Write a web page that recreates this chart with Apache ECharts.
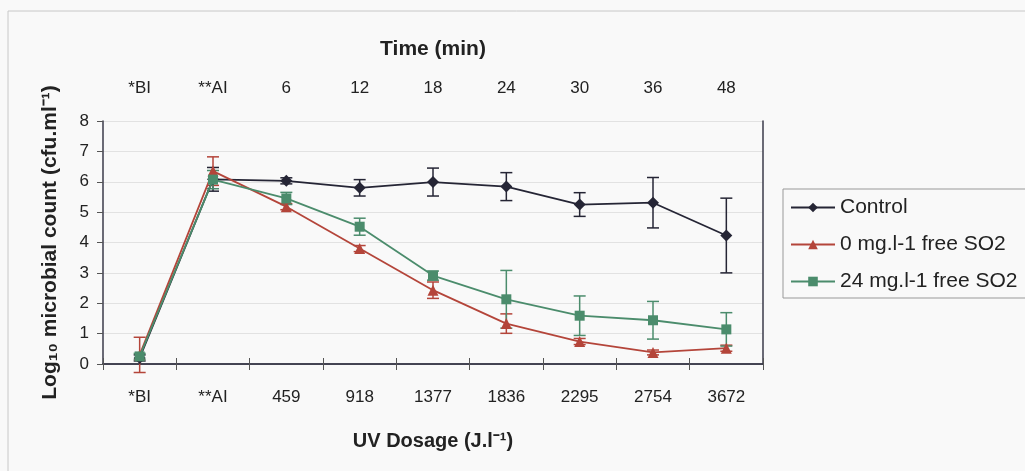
<!DOCTYPE html>
<html><head><meta charset="utf-8">
<script src="https://cdn.jsdelivr.net/npm/echarts@6/dist/echarts.min.js"></script>
<style>html,body{margin:0;padding:0;background:#f9f9f9;}#c{width:1025px;height:471px;}</style>
</head><body><div id="c"></div>
<script>
const dosage = ['*BI','**AI','459','918','1377','1836','2295','2754','3672'];
const timeLabels = ['*BI','**AI','6','12','18','24','30','36','48'];
const seriesNames = ['Control','0 mg.l-1 free SO2','24 mg.l-1 free SO2'];
const control = [0.2, 6.08, 6.03, 5.8, 5.99, 5.84, 5.25, 5.31, 4.23];
const controlErr = [0.1, 0.39, 0.1, 0.27, 0.46, 0.46, 0.39, 0.83, 1.23];
const so2_0 = [0.3, 6.35, 5.18, 3.8, 2.43, 1.33, 0.74, 0.38, 0.52];
const so2_0Err = [0.58, 0.47, 0.1, 0.1, 0.27, 0.32, 0.1, 0.08, 0.1];
const so2_24 = [0.25, 6.07, 5.45, 4.52, 2.91, 2.13, 1.59, 1.44, 1.14];
const so2_24Err = [0.1, 0.3, 0.2, 0.28, 0.15, 0.95, 0.65, 0.62, 0.55];
const colors = ['#252535', '#b4453a', '#4b8c6c'];

function errSeries(vals, errs, color) {
  const data = vals.map((v, i) => [i, v - errs[i], v + errs[i]]);
  return {
    type: 'custom', xAxisIndex: 0, yAxisIndex: 0, silent: true, z: 3,
    renderItem: function (params, api) {
      const lo = api.coord([api.value(0), api.value(1)]);
      const hi = api.coord([api.value(0), api.value(2)]);
      const w = 6;
      const st = { stroke: color, lineWidth: 1.5 };
      return { type: 'group', children: [
        { type: 'line', shape: { x1: lo[0], y1: lo[1], x2: hi[0], y2: hi[1] }, style: st },
        { type: 'line', shape: { x1: lo[0]-w, y1: lo[1], x2: lo[0]+w, y2: lo[1] }, style: st },
        { type: 'line', shape: { x1: hi[0]-w, y1: hi[1], x2: hi[0]+w, y2: hi[1] }, style: st }
      ]};
    },
    encode: { x: 0, y: [1, 2] },
    data: data
  };
}

const FONT = 'Liberation Sans, Arial, sans-serif';
const chart = echarts.init(document.getElementById('c'));
const axisLineStyle = { color: '#3a3a4a', width: 1.5 };
chart.setOption({
  animation: false,
  backgroundColor: '#f9f9f9',
  graphic: [
    { type: 'polyline', shape: { points: [[8, 471], [8, 11], [1025, 11]] }, style: { stroke: '#c8c8c8', fill: null, lineWidth: 1 } }
  ],
  grid: { left: 103, right: 262, top: 121, bottom: 107, containLabel: false },
  legend: {
    data: seriesNames,
    orient: 'vertical',
    left: 783, top: 189,
    padding: [8, 12, 6, 7],
    borderColor: '#999', borderWidth: 1,
    itemWidth: 44, itemHeight: 12, itemGap: 16,
    textStyle: { fontFamily: FONT, fontSize: 21, color: '#222' }
  },
  xAxis: [
    { type: 'category', data: dosage, position: 'bottom', boundaryGap: true,
      axisLine: { lineStyle: axisLineStyle }, axisTick: { show: true, alignWithLabel: false, length: 6, lineStyle: { color: '#555' } },
      axisLabel: { fontFamily: FONT, fontSize: 17, color: '#222', margin: 25 },
      name: 'UV Dosage (J.l⁻¹)', nameLocation: 'middle', nameGap: 67,
      nameTextStyle: { fontFamily: FONT, fontWeight: 'bold', fontSize: 20, color: '#222' } },
    { type: 'category', data: timeLabels, position: 'top', boundaryGap: true,
      axisLine: { lineStyle: axisLineStyle }, axisTick: { show: true, length: 6, lineStyle: { color: '#555' } },
      axisLabel: { fontFamily: FONT, fontSize: 17, color: '#222', margin: 24 },
      name: 'Time (min)', nameLocation: 'middle', nameGap: 61,
      nameTextStyle: { fontFamily: FONT, fontWeight: 'bold', fontSize: 21, color: '#222' } }
  ],
  yAxis: [
    { type: 'value', min: 0, max: 8, interval: 1,
      axisLine: { show: true, lineStyle: axisLineStyle }, axisTick: { show: true, length: 6, lineStyle: { color: '#555' } },
      axisLabel: { fontFamily: FONT, fontSize: 17, color: '#222', margin: 14 },
      splitLine: { show: true, lineStyle: { color: '#e2e2e2', width: 1 } },
      name: 'Log₁₀ microbial count (cfu.ml⁻¹)', nameLocation: 'middle', nameGap: 42, nameRotate: 90,
      nameTextStyle: { fontFamily: FONT, fontWeight: 'bold', fontSize: 21, color: '#222' } },
    { type: 'value', min: 0, max: 8, interval: 1, position: 'right',
      axisLine: { show: true, lineStyle: axisLineStyle }, axisTick: { show: false }, axisLabel: { show: false }, splitLine: { show: false } }
  ],
  series: [
    errSeries(control, controlErr, colors[0]),
    errSeries(so2_0, so2_0Err, colors[1]),
    errSeries(so2_24, so2_24Err, colors[2]),
    { name: seriesNames[0], type: 'line', data: control, symbol: 'diamond', symbolSize: 12,
      itemStyle: { color: colors[0] }, lineStyle: { color: colors[0], width: 1.8 }, z: 4 },
    { name: seriesNames[1], type: 'line', data: so2_0, symbol: 'triangle', symbolSize: 11,
      itemStyle: { color: colors[1] }, lineStyle: { color: colors[1], width: 1.8 }, z: 4 },
    { name: seriesNames[2], type: 'line', data: so2_24, symbol: 'rect', symbolSize: 10,
      itemStyle: { color: colors[2] }, lineStyle: { color: colors[2], width: 1.8 }, z: 4 }
  ]
});
</script></body></html>
